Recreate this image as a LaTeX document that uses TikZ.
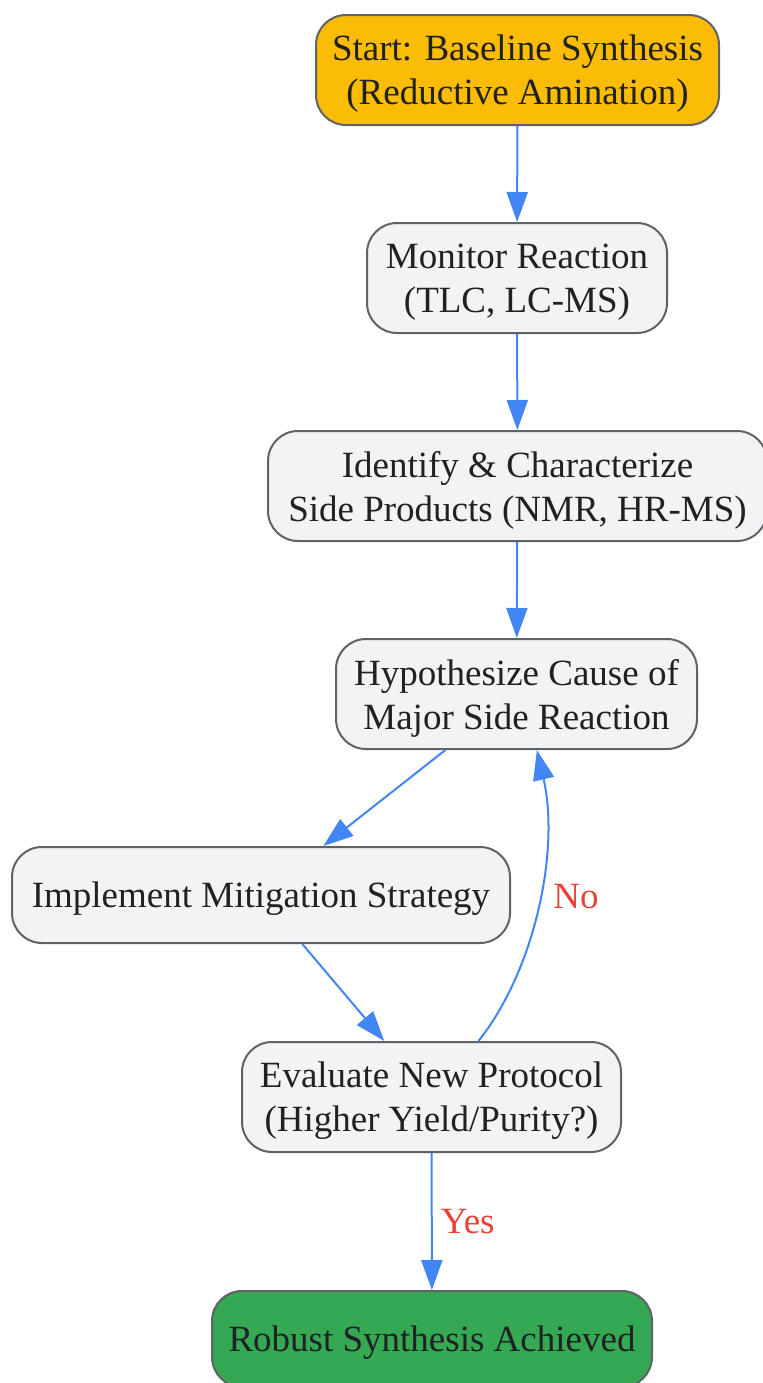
\documentclass[tikz,border=0pt]{standalone}
\usepackage{fontspec}
\setmainfont{Liberation Serif}
\usetikzlibrary{arrows.meta,positioning}
\definecolor{startfill}{HTML}{FBBC05}
\definecolor{goalfill}{HTML}{34A853}
\definecolor{boxfill}{HTML}{F1F3F4}
\definecolor{boxline}{HTML}{5F6368}
\definecolor{flowblue}{HTML}{4285F4}
\definecolor{answerred}{HTML}{EA4335}
\definecolor{inktext}{HTML}{202124}

\begin{document}
\begin{tikzpicture}[x=0.5pt,y=-0.5pt,
    stepbox/.style={rectangle,rounded corners=15pt,draw=boxline,line width=1pt,fill=boxfill,
        text=inktext,align=center,inner sep=0pt,minimum height=55pt,text depth=-2pt,
        font=\fontsize{18.5}{22}\selectfont},
    oneline/.style={minimum height=48pt,text depth=-0.5pt},
    flow/.style={-{Triangle[length=15pt,width=10.5pt]},draw=flowblue,line width=1pt},
    answer/.style={text=answerred,font=\fontsize{18.5}{22}\selectfont}]
    \useasboundingbox (0,0) rectangle (763,1383);

    % Main steps
    \node[stepbox,fill=startfill,minimum width=201.5pt] (start) at (517.5,70) {Start: Baseline Synthesis\\(Reductive Amination)};
    \node[stepbox,minimum width=150pt] (monitor) at (517,278) {Monitor Reaction\\(TLC, LC-MS)};
    \node[stepbox,minimum width=249.5pt] (identify) at (517.5,486) {Identify \& Characterize\\Side Products (NMR, HR-MS)};
    \node[stepbox,minimum width=180.5pt] (hypo) at (516.5,694) {Hypothesize Cause of\\Major Side Reaction};
    \node[stepbox,oneline,minimum width=249pt] (mitigate) at (261,895) {Implement Mitigation Strategy};
    \node[stepbox,minimum width=189.5pt] (evaluate) at (431.5,1097) {Evaluate New Protocol\\(Higher Yield/Purity?)};
    \node[stepbox,oneline,fill=goalfill,minimum width=220pt] (goal) at (432,1339) {Robust Synthesis Achieved};

    \draw[flow] (start) -- (monitor);
    \draw[flow] (monitor) -- (identify);
    \draw[flow] (identify) -- (hypo);
    \draw[flow] (hypo) -- (mitigate);
    \draw[flow] (mitigate) -- (evaluate);

    % Decision
    \draw[flow] (evaluate.50) .. controls (535,970) and (560,850) .. (hypo.-70);
    \node[answer] (no) at (576,897) {No};
    \draw[flow] (evaluate) -- node[answer,midway,right,inner sep=4pt] (yes) {Yes} (goal);
\end{tikzpicture}
\end{document}
